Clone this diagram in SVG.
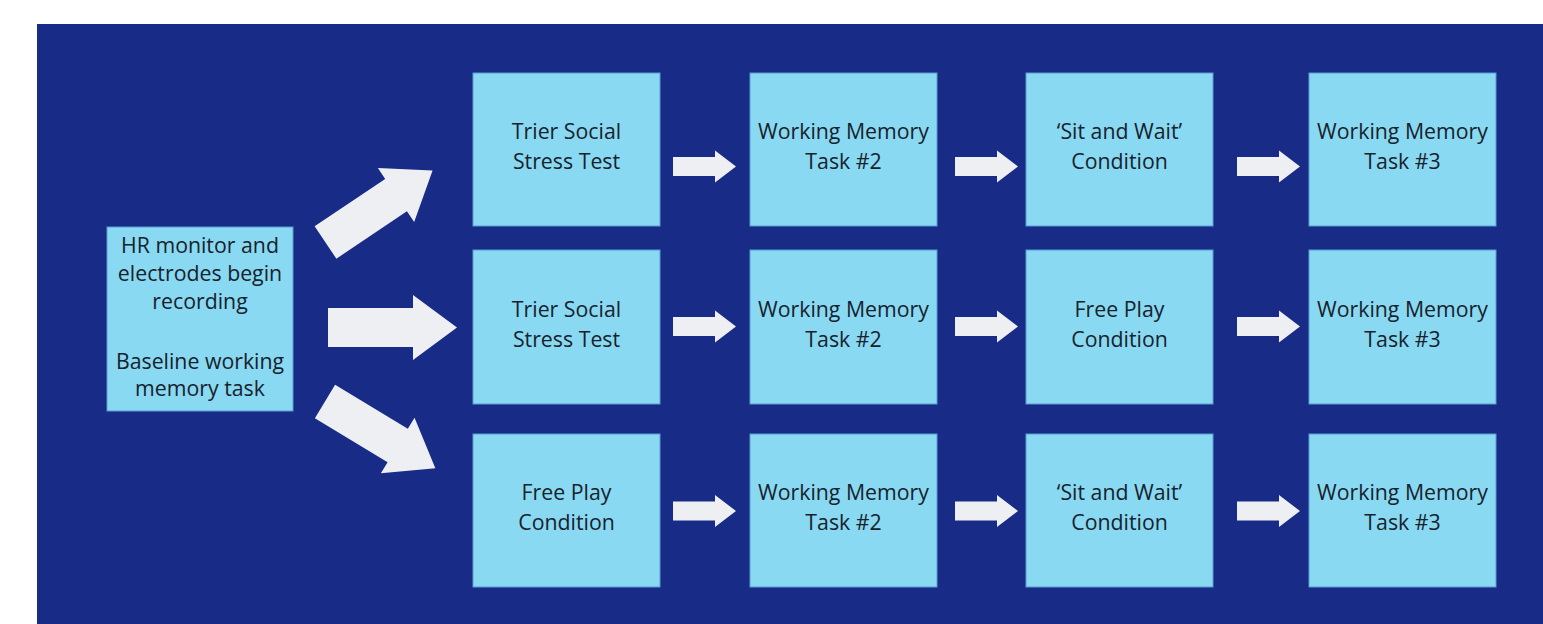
<svg xmlns="http://www.w3.org/2000/svg" xmlns:xlink="http://www.w3.org/1999/xlink" width="1543" height="624" viewBox="0 0 1543 624">
<style>
.box{fill:#89d9f2;stroke:#5a9bd0;stroke-width:1}
.t{font-family:"Open Sans","Liberation Sans",sans-serif;font-size:21.3px;fill:#17222c;text-anchor:middle}
.arr{fill:#eeeff3}
</style>
<defs>
<polygon id="big" class="arr" points="0,-19.5 85,-19.5 85,-32.5 129,0 85,32.5 85,19.5 0,19.5"/>
<polygon id="small" class="arr" points="0,-9.5 42,-9.5 42,-16 63,0 42,16 42,9.5 0,9.5"/>
</defs>
<rect x="0" y="0" width="1543" height="624" fill="#ffffff"/>
<rect x="37" y="24" width="1506" height="600" fill="#182c87"/>
<g id="connectors">
<use xlink:href="#big" transform="translate(325.5,242.5) rotate(-33.9)"/>
<use xlink:href="#big" transform="translate(328,327.5)"/>
<use xlink:href="#big" transform="translate(325,401.5) rotate(31.2)"/>
<use xlink:href="#small" transform="translate(673,166.5)"/>
<use xlink:href="#small" transform="translate(955,166.5)"/>
<use xlink:href="#small" transform="translate(1237,166.5)"/>
<use xlink:href="#small" transform="translate(673,326.5)"/>
<use xlink:href="#small" transform="translate(955,326.5)"/>
<use xlink:href="#small" transform="translate(1237,326.5)"/>
<use xlink:href="#small" transform="translate(673,511)"/>
<use xlink:href="#small" transform="translate(955,511)"/>
<use xlink:href="#small" transform="translate(1237,511)"/>
</g>
<g id="start">
<rect class="box" x="107" y="227" width="186" height="184"/>
<text class="t" x="200" y="253">HR monitor and</text>
<text class="t" x="200" y="281">electrodes begin</text>
<text class="t" x="200" y="309">recording</text>
<text class="t" x="200" y="369">Baseline working</text>
<text class="t" x="200" y="396">memory task</text>
</g>
<g id="r1c1"><rect class="box" x="473" y="73" width="187" height="153"/><text class="t" x="566.5" y="139">Trier Social</text><text class="t" x="566.5" y="169">Stress Test</text></g>
<g id="r1c2"><rect class="box" x="750" y="73" width="187" height="153"/><text class="t" x="843.5" y="139">Working Memory</text><text class="t" x="843.5" y="169">Task #2</text></g>
<g id="r1c3"><rect class="box" x="1026" y="73" width="187" height="153"/><text class="t" x="1119.5" y="139">‘Sit and Wait’</text><text class="t" x="1119.5" y="169">Condition</text></g>
<g id="r1c4"><rect class="box" x="1309" y="73" width="187" height="153"/><text class="t" x="1402.5" y="139">Working Memory</text><text class="t" x="1402.5" y="169">Task #3</text></g>
<g id="r2c1"><rect class="box" x="473" y="250" width="187" height="154"/><text class="t" x="566.5" y="317">Trier Social</text><text class="t" x="566.5" y="347">Stress Test</text></g>
<g id="r2c2"><rect class="box" x="750" y="250" width="187" height="154"/><text class="t" x="843.5" y="317">Working Memory</text><text class="t" x="843.5" y="347">Task #2</text></g>
<g id="r2c3"><rect class="box" x="1026" y="250" width="187" height="154"/><text class="t" x="1119.5" y="317">Free Play</text><text class="t" x="1119.5" y="347">Condition</text></g>
<g id="r2c4"><rect class="box" x="1309" y="250" width="187" height="154"/><text class="t" x="1402.5" y="317">Working Memory</text><text class="t" x="1402.5" y="347">Task #3</text></g>
<g id="r3c1"><rect class="box" x="473" y="434" width="187" height="153"/><text class="t" x="566.5" y="500">Free Play</text><text class="t" x="566.5" y="530">Condition</text></g>
<g id="r3c2"><rect class="box" x="750" y="434" width="187" height="153"/><text class="t" x="843.5" y="500">Working Memory</text><text class="t" x="843.5" y="530">Task #2</text></g>
<g id="r3c3"><rect class="box" x="1026" y="434" width="187" height="153"/><text class="t" x="1119.5" y="500">‘Sit and Wait’</text><text class="t" x="1119.5" y="530">Condition</text></g>
<g id="r3c4"><rect class="box" x="1309" y="434" width="187" height="153"/><text class="t" x="1402.5" y="500">Working Memory</text><text class="t" x="1402.5" y="530">Task #3</text></g>
</svg>
